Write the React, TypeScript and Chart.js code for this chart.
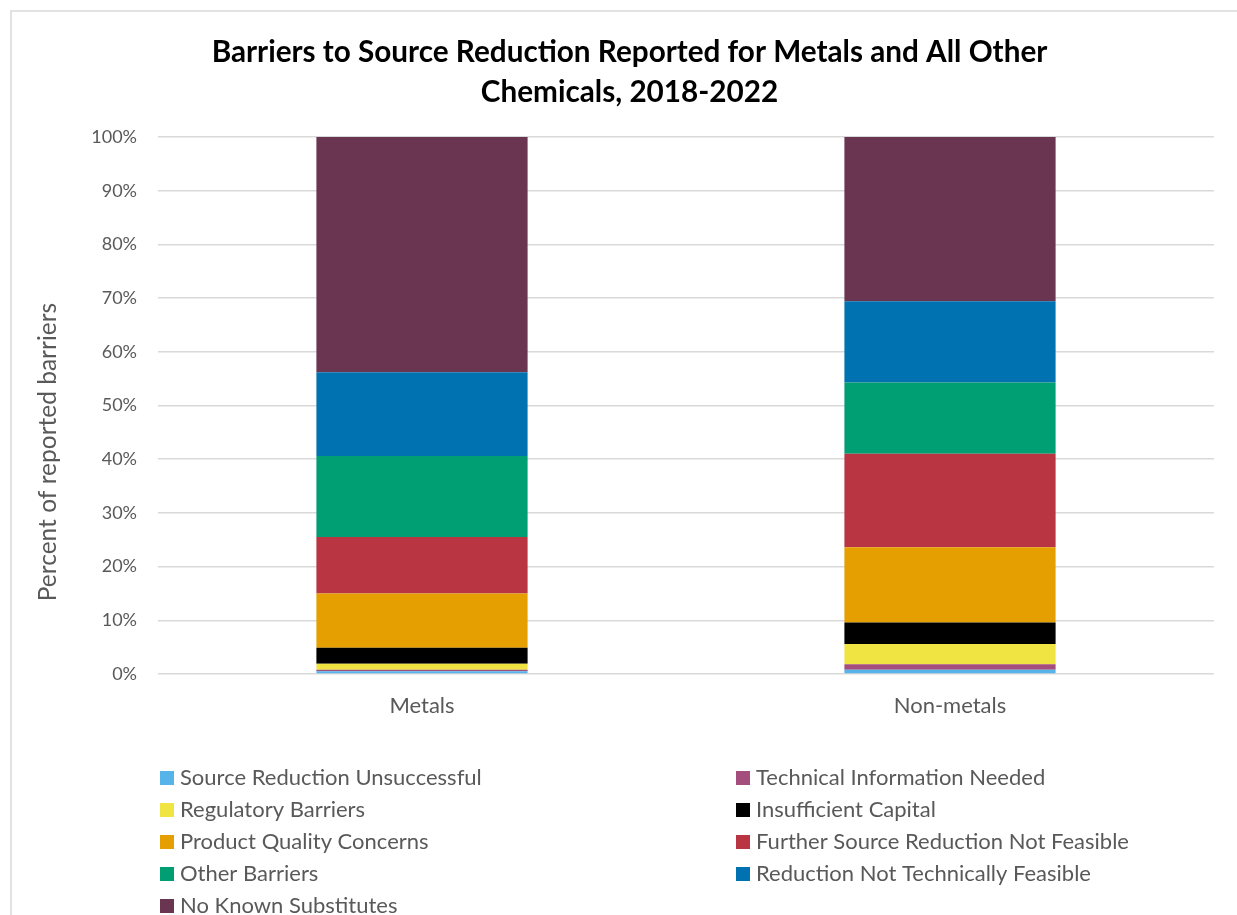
import React, { useEffect, useRef } from "react";
import { Chart, registerables } from "chart.js";

Chart.register(...registerables);

const categories = ["Metals", "Non-metals"];

const seriesNames = [
  "Source Reduction Unsuccessful",
  "Technical Information Needed",
  "Regulatory Barriers",
  "Insufficient Capital",
  "Product Quality Concerns",
  "Further Source Reduction Not Feasible",
  "Other Barriers",
  "Reduction Not Technically Feasible",
  "No Known Substitutes",
];

const seriesColors = [
  "#56B4E9",
  "#A44E7D",
  "#F0E442",
  "#000000",
  "#E69F00",
  "#B93541",
  "#009E73",
  "#0072B2",
  "#6A3551",
];

// percent of reported barriers, [Metals, Non-metals]
const sourceReductionUnsuccessful = [0.5, 0.8];
const technicalInformationNeeded = [0.3, 1.0];
const regulatoryBarriers = [1.1, 3.8];
const insufficientCapital = [3.0, 4.0];
const productQualityConcerns = [10.1, 14.0];
const furtherSourceReductionNotFeasible = [10.5, 17.4];
const otherBarriers = [15.1, 13.3];
const reductionNotTechnicallyFeasible = [15.6, 15.1];
const noKnownSubstitutes = [43.8, 30.6];

const seriesValues = [
  sourceReductionUnsuccessful,
  technicalInformationNeeded,
  regulatoryBarriers,
  insufficientCapital,
  productQualityConcerns,
  furtherSourceReductionNotFeasible,
  otherBarriers,
  reductionNotTechnicallyFeasible,
  noKnownSubstitutes,
];

const titleLines = [
  "Barriers to Source Reduction Reported for Metals and All Other",
  "Chemicals, 2018-2022",
];
const yAxisTitle = "Percent of reported barriers";

const FONT = "Lato, 'Open Sans', sans-serif";
const TEXT_GRAY = "#595959";

const W = 1237;
const H = 915;

const framePlugin = {
  id: "frame",
  beforeDraw(chart: any) {
    const ctx = chart.ctx;
    ctx.save();
    ctx.strokeStyle = "#d9d9d9";
    ctx.lineWidth = 1.5;
    ctx.beginPath();
    ctx.moveTo(11, H);
    ctx.lineTo(11, 11);
    ctx.lineTo(W, 11);
    ctx.stroke();
    ctx.restore();
  },
};

const customTextPlugin = {
  id: "customText",
  afterDraw(chart: any) {
    const ctx = chart.ctx;

    // chart title
    ctx.save();
    ctx.fillStyle = "#000000";
    ctx.font = `bold 29.7px ${FONT}`;
    ctx.textAlign = "center";
    ctx.textBaseline = "middle";
    titleLines.forEach((line, i) => {
      ctx.fillText(line, 629.5, 52 + i * 40);
    });
    ctx.restore();

    // y-axis title
    ctx.save();
    ctx.translate(48, 452);
    ctx.rotate(-Math.PI / 2);
    ctx.fillStyle = TEXT_GRAY;
    ctx.font = `24.5px ${FONT}`;
    ctx.textAlign = "center";
    ctx.textBaseline = "middle";
    ctx.fillText(yAxisTitle, 0, 0);
    ctx.restore();

    // legend in two columns
    ctx.save();
    ctx.font = `22px ${FONT}`;
    ctx.textBaseline = "middle";
    ctx.textAlign = "left";
    chart.data.datasets.forEach((ds: any, i: number) => {
      const col = i % 2;
      const row = Math.floor(i / 2);
      const x = col === 0 ? 160 : 736;
      const y = 778 + row * 32;
      ctx.fillStyle = ds.backgroundColor;
      ctx.fillRect(x, y - 7, 14, 14);
      ctx.fillStyle = TEXT_GRAY;
      ctx.fillText(ds.label, x + 20, y);
    });
    ctx.restore();
  },
};

export default function App() {
  const canvasRef = useRef<HTMLCanvasElement | null>(null);

  useEffect(() => {
    if (!canvasRef.current) return;
    const chart = new Chart(canvasRef.current, {
      type: "bar",
      data: {
        labels: categories,
        datasets: seriesNames.map((name, i) => ({
          label: name,
          data: seriesValues[i],
          backgroundColor: seriesColors[i],
          borderWidth: 0,
          categoryPercentage: 1,
          barPercentage: 0.4,
        })),
      },
      options: {
        responsive: false,
        animation: false,
        devicePixelRatio: 1,
        layout: {
          padding: { left: 22, right: 23, top: 137, bottom: 180 },
        },
        plugins: {
          legend: { display: false },
          tooltip: { enabled: false },
          title: { display: false },
        },
        scales: {
          x: {
            stacked: true,
            grid: { display: false },
            border: { display: false },
            ticks: {
              color: TEXT_GRAY,
              font: { family: FONT, size: 22 },
              padding: 11,
            },
            afterFit: (scale: any) => {
              scale.height = H - 180 - 674;
            },
          },
          y: {
            stacked: true,
            min: 0,
            max: 100,
            border: { display: false },
            grid: {
              color: "#d9d9d9",
              lineWidth: 1.5,
              drawTicks: false,
            },
            ticks: {
              stepSize: 10,
              color: TEXT_GRAY,
              font: { family: FONT, size: 18 },
              padding: 21,
              callback: (v: any) => `${v}%`,
            },
            afterFit: (scale: any) => {
              scale.width = 136;
            },
          },
        },
      },
      plugins: [framePlugin, customTextPlugin],
    });
    return () => chart.destroy();
  }, []);

  return (
    <div style={{ position: "fixed", left: 0, top: 0, width: W, height: H, background: "#ffffff" }}>
      <canvas ref={canvasRef} width={W} height={H} style={{ width: W, height: H, display: "block" }} />
    </div>
  );
}
